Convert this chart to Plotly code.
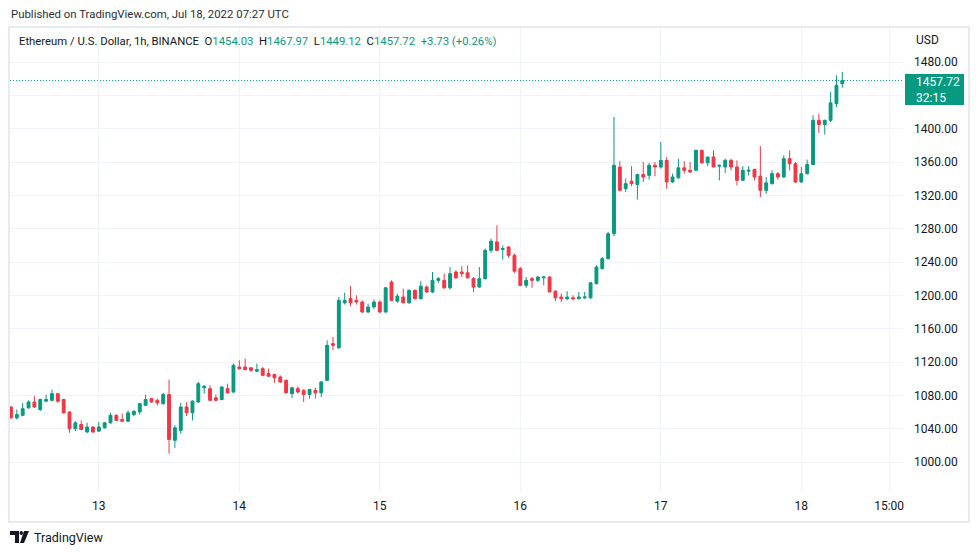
import plotly.graph_objects as go
import pandas as pd

# hourly ETH/USD candles, Jul 12 09:00 -> Jul 18 07:00
open_ = [1066, 1053, 1056, 1065, 1072, 1063, 1073, 1074, 1082, 1075,
         1060, 1040, 1045, 1036, 1042, 1037, 1041, 1047, 1056, 1051,
         1049, 1057, 1060, 1068, 1076, 1074, 1070, 1081, 1026, 1038,
         1066, 1059, 1072, 1089, 1088, 1077, 1075, 1088, 1084, 1114,
         1114, 1113, 1109, 1112, 1106, 1105, 1102, 1098, 1082, 1088,
         1086, 1081, 1086, 1083, 1098, 1142, 1137, 1191, 1196, 1194,
         1192, 1180, 1186, 1192, 1180, 1216, 1193, 1198, 1191, 1206,
         1196, 1210, 1204, 1218, 1218, 1209, 1228, 1228, 1227, 1220,
         1210, 1220, 1254, 1264, 1255, 1258, 1248, 1232, 1212, 1220,
         1218, 1221, 1222, 1205, 1198, 1196, 1197, 1196, 1197, 1197,
         1214, 1232, 1244, 1274, 1354, 1328, 1337, 1333, 1345, 1344,
         1356, 1354, 1362, 1336, 1341, 1353, 1350, 1350, 1374, 1359,
         1366, 1355, 1354, 1362, 1354, 1338, 1349, 1351, 1343, 1326,
         1334, 1346, 1342, 1364, 1358, 1336, 1346, 1357, 1410, 1405,
         1410, 1430, 1454.03]
high = [1067, 1063, 1071, 1074, 1079, 1076, 1081, 1087, 1083, 1076,
        1061, 1049, 1050, 1047, 1043, 1048, 1048, 1059, 1057, 1058,
        1062, 1062, 1071, 1081, 1077, 1076, 1083, 1099, 1044, 1071,
        1072, 1074, 1096, 1092, 1092, 1081, 1091, 1094, 1118, 1122,
        1124, 1114, 1118, 1114, 1112, 1106, 1104, 1099, 1090, 1091,
        1087, 1088, 1089, 1097, 1146, 1150, 1198, 1203, 1211, 1200,
        1194, 1190, 1195, 1194, 1210, 1218, 1202, 1208, 1207, 1207,
        1217, 1212, 1228, 1222, 1226, 1234, 1230, 1235, 1236, 1222,
        1234, 1256, 1268, 1284, 1260, 1259, 1250, 1234, 1222, 1222,
        1223, 1223, 1223, 1206, 1202, 1205, 1200, 1204, 1204, 1216,
        1236, 1246, 1276, 1414, 1361, 1340, 1355, 1346, 1360, 1359,
        1360, 1384, 1366, 1346, 1364, 1361, 1360, 1375, 1375, 1366,
        1374, 1357, 1364, 1364, 1362, 1355, 1355, 1352, 1379, 1342,
        1350, 1348, 1368, 1374, 1360, 1354, 1363, 1416, 1418, 1411,
        1444, 1464, 1467.97]
low = [1052, 1051, 1055, 1064, 1065, 1061, 1072, 1073, 1071, 1058,
       1035, 1037, 1038, 1035, 1035, 1036, 1040, 1046, 1049, 1048,
       1048, 1055, 1057, 1067, 1071, 1068, 1069, 1010, 1017, 1034,
       1055, 1050, 1071, 1082, 1073, 1073, 1074, 1082, 1083, 1111,
       1110, 1108, 1108, 1103, 1102, 1095, 1095, 1082, 1077, 1082,
       1072, 1076, 1076, 1078, 1097, 1134, 1136, 1189, 1187, 1189,
       1179, 1179, 1184, 1179, 1179, 1193, 1191, 1191, 1190, 1195,
       1195, 1203, 1203, 1215, 1208, 1207, 1220, 1222, 1220, 1204,
       1209, 1219, 1251, 1253, 1243, 1245, 1227, 1211, 1209, 1209,
       1216, 1212, 1204, 1193, 1192, 1194, 1194, 1195, 1196, 1196,
       1213, 1231, 1243, 1271, 1325, 1324, 1331, 1315, 1336, 1339,
       1343, 1352, 1328, 1335, 1340, 1346, 1347, 1349, 1358, 1355,
       1354, 1338, 1347, 1350, 1332, 1337, 1344, 1338, 1318, 1322,
       1333, 1339, 1341, 1350, 1335, 1335, 1345, 1356, 1395, 1393,
       1408, 1426, 1449.12]
close = [1053, 1057, 1064, 1072, 1066, 1075, 1075, 1082, 1073, 1059,
         1040, 1047, 1039, 1042, 1036, 1042, 1047, 1056, 1050, 1049,
         1059, 1061, 1070, 1075, 1072, 1071, 1081, 1027, 1041, 1066,
         1059, 1073, 1094, 1091, 1074, 1074, 1090, 1083, 1116, 1112,
         1111, 1110, 1111, 1104, 1103, 1101, 1096, 1083, 1089, 1084,
         1081, 1087, 1083, 1096, 1140, 1140, 1194, 1194, 1191, 1192,
         1180, 1186, 1192, 1180, 1209, 1194, 1199, 1191, 1206, 1196,
         1211, 1204, 1218, 1220, 1209, 1226, 1221, 1226, 1221, 1210,
         1220, 1254, 1265, 1254, 1256, 1248, 1229, 1212, 1218, 1218,
         1222, 1222, 1204, 1197, 1196, 1198, 1196, 1198, 1198, 1215,
         1234, 1244, 1274, 1356, 1326, 1334, 1334, 1345, 1342, 1356,
         1354, 1362, 1336, 1342, 1353, 1350, 1348, 1374, 1359, 1366,
         1354, 1356, 1362, 1354, 1338, 1350, 1350, 1342, 1326, 1335,
         1346, 1342, 1364, 1358, 1336, 1346, 1357, 1410, 1405, 1410,
         1431, 1452, 1457.72]

price_ticks = [1000, 1040, 1080, 1120, 1160, 1200, 1240, 1280, 1320, 1360, 1400, 1440, 1480]
date_ticks = ["2022-07-13", "2022-07-14", "2022-07-15", "2022-07-16", "2022-07-17",
              "2022-07-18", "2022-07-18 15:00"]
date_labels = ["13", "14", "15", "16", "17", "18", "15:00"]

times = pd.date_range("2022-07-12 09:00", periods=len(close), freq="h")

UP = "#089981"
DOWN = "#f23645"
W, H = 979, 555
L, R, T, B = 10, 76, 28, 63


def px(x):
    return (x - L) / (W - L - R)


def py(y):
    return (H - B - y) / (H - T - B)


fig = go.Figure()
fig.add_trace(go.Candlestick(
    x=times, open=open_, high=high, low=low, close=close,
    increasing=dict(line=dict(color=UP, width=1), fillcolor=UP),
    decreasing=dict(line=dict(color=DOWN, width=1), fillcolor=DOWN),
    whiskerwidth=0, hoverinfo="skip", showlegend=False
))

last = close[-1]
fig.add_hline(y=last, line=dict(color=UP, width=1, dash="1px,2px"))

# chart frame
fig.add_shape(type="rect", xref="paper", yref="paper",
              x0=px(9), x1=px(969), y0=py(27), y1=py(522),
              line=dict(color="#e0e3eb", width=1.5), layer="below")

# last price box on the price scale
fig.add_shape(type="rect", xref="paper", yref="paper",
              x0=px(905), x1=px(964), y0=py(74), y1=py(105),
              fillcolor=UP, line=dict(width=0))

# TradingView logo at the bottom
fig.add_shape(type="path", xref="paper", yref="paper",
              path=f"M {px(10)},{py(531)} L {px(19)},{py(531)} L {px(19)},{py(543)} "
                   f"L {px(15)},{py(543)} L {px(15)},{py(535)} L {px(10)},{py(535)} Z",
              fillcolor="#131722", line=dict(width=0))
fig.add_shape(type="circle", xref="paper", yref="paper",
              x0=px(19.5), x1=px(23), y0=py(531), y1=py(535),
              fillcolor="#131722", line=dict(width=0))
fig.add_shape(type="path", xref="paper", yref="paper",
              path=f"M {px(24)},{py(531)} L {px(29)},{py(531)} L {px(24)},{py(543)} "
                   f"L {px(20)},{py(543)} Z",
              fillcolor="#131722", line=dict(width=0))

g = f"<span style='color:{UP}'>"
ann = [
    dict(x=px(9), y=py(14), text="Published on TradingView.com, Jul 18, 2022 07:27 UTC",
         font=dict(size=11.4, color="#2a2e39")),
    dict(x=px(17), y=py(41),
         text="Ethereum / U.S. Dollar, 1h, BINANCE  O" + g + "1454.03</span>  H" + g + "1467.97</span>  L"
              + g + "1449.12</span>  C" + g + "1457.72</span>  " + g + "+3.73 (+0.26%)</span>",
         font=dict(size=11.3, color="#131722")),
    dict(x=px(914), y=py(40), text="USD", font=dict(size=12, color="#131722")),
    dict(x=px(914), y=py(89.5), text=f"{last:.2f}<br>32:15",
         align="left", font=dict(size=12, color="white")),
    dict(x=px(32), y=py(537), text="TradingView", font=dict(size=12.5, color="#131722")),
]
for a in ann:
    a.update(xref="paper", yref="paper", xanchor="left", yanchor="middle", showarrow=False)

fig.update_layout(
    width=W, height=H,
    margin=dict(l=L, r=R, t=T, b=B),
    paper_bgcolor="white", plot_bgcolor="white",
    font=dict(family="Roboto, sans-serif", size=12, color="#131722"),
    annotations=ann,
    showlegend=False,
)
fig.update_xaxes(
    range=["2022-07-12 08:50", "2022-07-18 17:22"],
    rangeslider=dict(visible=False),
    tickvals=date_ticks, ticktext=date_labels,
    showgrid=True, gridcolor="#f0f3fa", gridwidth=1,
    showline=False, zeroline=False, ticks="", ticklabelstandoff=5,
)
# the 1440 label sits under the last-price box, as in the original
fig.update_yaxes(
    range=[964, 1520.8], side="right",
    tickvals=price_ticks,
    ticktext=["" if v == 1440 else f"{v:.2f}" for v in price_ticks],
    showgrid=True, gridcolor="#f0f3fa", gridwidth=1,
    showline=False, zeroline=False, ticks="", ticklabelstandoff=10,
)

fig.write_html("out.html", config={"displayModeBar": False},
               post_script="document.body.style.margin='0px';")
